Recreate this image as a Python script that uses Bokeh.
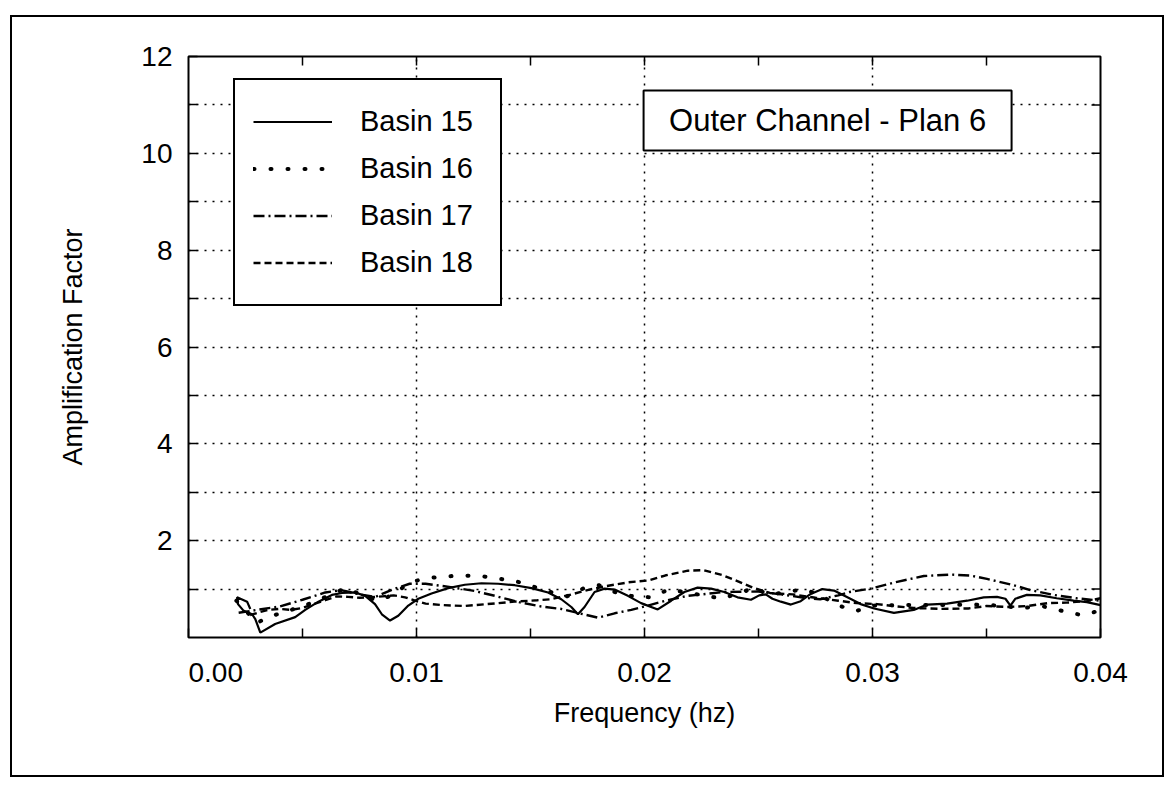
import math
from bokeh.plotting import figure
from bokeh.models import FixedTicker, Legend, LegendItem, Range1d
from bokeh.embed import file_html
from bokeh.resources import INLINE
from bokeh.core.properties import value

# ---------------- data ----------------
freq15 = [0.00271, 0.00257, 0.00213, 0.00217, 0.00242, 0.00279, 0.00293, 0.00315, 0.0038, 0.00468,
          0.00512, 0.0057, 0.00629, 0.00673, 0.00731, 0.00775, 0.00818, 0.00848, 0.00884, 0.0092,
          0.00964, 0.01008, 0.01066, 0.01139, 0.01212, 0.01285, 0.01358, 0.01431, 0.01504, 0.01577,
          0.01635, 0.01679, 0.01708, 0.01737, 0.01781, 0.01825, 0.01869, 0.01927, 0.01985, 0.02058,
          0.02117, 0.02175, 0.02233, 0.02292, 0.0235, 0.02408, 0.02467, 0.02503, 0.02532, 0.02561,
          0.02598, 0.02642, 0.02685, 0.02729, 0.0278, 0.02831, 0.0289, 0.02948, 0.03007, 0.03094,
          0.03181, 0.0324, 0.03327, 0.03415, 0.03488, 0.03546, 0.03583, 0.03605, 0.03626, 0.03677,
          0.03736, 0.03808, 0.03882, 0.0394, 0.04]
amp15 = [0.59, 0.74, 0.83, 0.69, 0.55, 0.48, 0.38, 0.10, 0.28, 0.42,
         0.57, 0.74, 0.88, 0.92, 0.93, 0.86, 0.69, 0.48, 0.35, 0.45,
         0.66, 0.80, 0.91, 1.02, 1.09, 1.12, 1.11, 1.08, 1.02, 0.93,
         0.79, 0.63, 0.48, 0.63, 0.94, 1.01, 0.99, 0.86, 0.71, 0.58,
         0.76, 0.94, 1.03, 1.01, 0.94, 0.83, 0.78, 0.87, 0.89, 0.80,
         0.74, 0.68, 0.75, 0.90, 1.00, 0.97, 0.83, 0.69, 0.60, 0.51,
         0.57, 0.68, 0.70, 0.76, 0.83, 0.84, 0.80, 0.66, 0.80, 0.88,
         0.87, 0.81, 0.76, 0.73, 0.67]

freq16 = [0.0021, 0.0025, 0.003, 0.0035, 0.0045, 0.0055, 0.0062, 0.0068, 0.0073, 0.0078,
          0.0083, 0.0088, 0.0093, 0.0098, 0.0104, 0.0112, 0.012, 0.0128, 0.0135, 0.0143,
          0.015, 0.0158, 0.0166, 0.0173, 0.018, 0.0188, 0.0195, 0.0203, 0.0211, 0.0218,
          0.0226, 0.0234, 0.0242, 0.0248, 0.0255, 0.0264, 0.0271, 0.0279, 0.0285, 0.0293,
          0.0301, 0.0315, 0.033, 0.0345, 0.0355, 0.0365, 0.0375, 0.0385, 0.0392, 0.04]
amp16 = [0.76, 0.56, 0.30, 0.42, 0.57, 0.73, 0.88, 1.00, 0.94, 0.84,
         0.76, 0.85, 1.00, 1.15, 1.22, 1.26, 1.28, 1.27, 1.22, 1.17,
         1.07, 0.95, 0.85, 1.01, 1.08, 0.92, 0.85, 0.83, 1.00, 0.93,
         0.87, 0.80, 0.93, 1.02, 0.88, 0.96, 0.99, 0.82, 0.66, 0.55,
         0.66, 0.67, 0.67, 0.68, 0.66, 0.61, 0.64, 0.53, 0.46, 0.56]

freq17 = [0.0022, 0.003, 0.004, 0.005, 0.006, 0.0067, 0.0075, 0.0082, 0.009, 0.0097,
          0.0104, 0.0115, 0.01256, 0.01344, 0.0145, 0.01547, 0.01635, 0.01723, 0.01796, 0.01869,
          0.01942, 0.02015, 0.021, 0.0219, 0.0235, 0.025, 0.026, 0.027, 0.0277, 0.0285,
          0.029, 0.02992, 0.03108, 0.03225, 0.03342, 0.03429, 0.03502, 0.03619, 0.03692, 0.03794,
          0.03896, 0.04]
amp17 = [0.51, 0.57, 0.64, 0.78, 0.93, 0.98, 0.89, 0.84, 1.00, 1.11,
         1.11, 1.04, 0.96, 0.86, 0.73, 0.64, 0.59, 0.49, 0.41, 0.50,
         0.57, 0.66, 0.77, 0.86, 0.94, 0.95, 0.89, 0.82, 0.79, 0.87,
         0.94, 1.01, 1.15, 1.27, 1.30, 1.28, 1.21, 1.08, 0.98, 0.88,
         0.81, 0.76]

freq18 = [0.0027, 0.0031, 0.0035, 0.004, 0.0045, 0.005, 0.0055, 0.006, 0.0065, 0.007,
          0.0075, 0.008, 0.0085, 0.009, 0.0095, 0.01, 0.0104, 0.0111, 0.0121, 0.0131,
          0.0143, 0.0153, 0.0159, 0.0168, 0.0175, 0.0183, 0.0193, 0.0202, 0.0209, 0.0219,
          0.0226, 0.0234, 0.0241, 0.0248, 0.0255, 0.0265, 0.0275, 0.0285, 0.0293, 0.0302,
          0.0309, 0.0318, 0.033, 0.0342, 0.035, 0.0359, 0.0368, 0.0377, 0.0385, 0.0394,
          0.04]
amp18 = [0.46, 0.52, 0.57, 0.59, 0.57, 0.61, 0.69, 0.77, 0.85, 0.84,
         0.82, 0.83, 0.85, 0.87, 0.83, 0.75, 0.70, 0.67, 0.65, 0.69,
         0.74, 0.77, 0.79, 0.89, 0.98, 1.06, 1.14, 1.18, 1.28, 1.38,
         1.39, 1.29, 1.16, 1.02, 0.92, 0.89, 0.82, 0.76, 0.71, 0.69,
         0.65, 0.61, 0.59, 0.60, 0.65, 0.63, 0.65, 0.71, 0.72, 0.75,
         0.81]

series_names = ["Basin 15", "Basin 16", "Basin 17", "Basin 18"]
x_major_ticks = [0.0, 0.01, 0.02, 0.03, 0.04]
x_minor_ticks = [0.005, 0.015, 0.025, 0.035]
y_major_ticks = [2, 4, 6, 8, 10, 12]
y_minor_ticks = [1, 3, 5, 7, 9, 11]
title_text = "Outer Channel - Plan 6"
x_title = "Frequency (hz)"
y_title = "Amplification Factor"

FONT = "Liberation Sans"
X_MIN, X_MAX, Y_MIN, Y_MAX = 0.0, 0.04, 0, 12

p = figure(width=1154, height=762,
           x_range=Range1d(X_MIN, X_MAX), y_range=Range1d(Y_MIN, Y_MAX),
           output_backend="svg", toolbar_location=None,
           min_border_left=176, min_border_right=66,
           min_border_top=39, min_border_bottom=142)
p.styles = {"border": "2px solid black", "margin-left": "10px", "margin-top": "15px"}
p.background_fill_color = "white"
p.border_fill_color = "white"
p.outline_line_color = "black"
p.outline_line_width = 2

TICK = 9


def style_axis(ax):
    ax.axis_line_color = None
    ax.major_tick_in = TICK
    ax.major_tick_out = 0
    ax.minor_tick_in = TICK
    ax.minor_tick_out = 0
    ax.major_tick_line_color = "black"
    ax.major_tick_line_width = 1.5
    ax.minor_tick_line_color = "black"
    ax.minor_tick_line_width = 1.5
    ax.major_label_text_font = FONT
    ax.major_label_text_color = "black"
    ax.major_label_text_font_size = "28px"
    ax.axis_label_text_font = FONT
    ax.axis_label_text_font_size = "27px"
    ax.axis_label_text_font_style = "normal"
    ax.axis_label_text_color = "black"


xa = p.xaxis[0]
xa.ticker = FixedTicker(ticks=x_major_ticks, minor_ticks=x_minor_ticks)
style_axis(xa)
xa.major_label_standoff = 19
# the first label sits a little to the right of the corner: pad it with no-break spaces
xa.major_label_overrides = {0: "\u00a0" * 7 + "0.00"}
xa.axis_label = x_title
xa.axis_label_standoff = 7

ya = p.yaxis[0]
ya.ticker = FixedTicker(ticks=y_major_ticks, minor_ticks=y_minor_ticks)
style_axis(ya)
ya.major_label_standoff = 16
ya.axis_label = y_title
ya.axis_label_standoff = 50

p.xgrid[0].grid_line_color = "black"
p.xgrid[0].grid_line_dash = "2 6"
p.xgrid[0].grid_line_width = 1.5
p.ygrid[0].grid_line_color = "black"
p.ygrid[0].grid_line_dash = "2 6"
p.ygrid[0].grid_line_width = 1.5
p.ygrid[0].minor_grid_line_color = "black"
p.ygrid[0].minor_grid_line_dash = "2 6"
p.ygrid[0].minor_grid_line_width = 1.5

# inward tick marks on the top and right edges of the frame
top_x = x_minor_ticks + x_major_ticks[1:-1]
p.ray(x=top_x, y=[Y_MAX] * len(top_x), length=TICK, length_units="screen",
      angle=-math.pi / 2, line_color="black", line_width=1.5)
right_y = y_minor_ticks + y_major_ticks[:-1]
p.ray(x=[X_MAX] * len(right_y), y=right_y, length=TICK, length_units="screen",
      angle=math.pi, line_color="black", line_width=1.5)

# ---------------- curves ----------------
r15 = p.line(freq15, amp15, line_color="black", line_width=2.2)
r16 = p.line(freq16, amp16, line_color="black", line_width=4, line_dash="1 16", line_cap="round")
r17 = p.line(freq17, amp17, line_color="black", line_width=2.4, line_dash="11 4 2 4")
r18 = p.line(freq18, amp18, line_color="black", line_width=2.4, line_dash="7 4")

legend = Legend(items=[LegendItem(label=n, renderers=[r]) for n, r in
                       zip(series_names, [r15, r16, r17, r18])],
                location=(45, 331), orientation="vertical",
                glyph_width=79, glyph_height=47, label_height=47, label_width=122,
                label_standoff=28, padding=18, spacing=0, margin=0,
                border_line_color="black", border_line_width=2, border_line_alpha=1.0,
                background_fill_color="white", background_fill_alpha=1.0,
                label_text_font=FONT, label_text_font_size="29px", label_text_color="black")
p.add_layout(legend)

# title box inside plot area
title_x = 0.02803
title_y = 10.68
p.rect(x=[title_x], y=[title_y], width=368, height=60, width_units="screen", height_units="screen",
       fill_color="white", line_color="black", line_width=2)
p.text(x=[title_x], y=[title_y], text=[title_text], text_font=value(FONT), text_font_size="31px",
       text_align="center", text_baseline="middle", text_color="black")

open("out.html", "w").write(file_html(p, INLINE))
